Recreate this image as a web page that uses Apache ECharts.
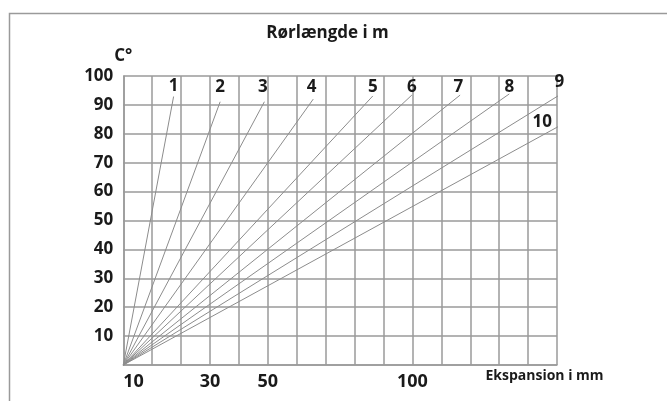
<!DOCTYPE html>
<html>
<head>
<meta charset="utf-8">
<script src="https://cdn.jsdelivr.net/npm/echarts@6/dist/echarts.min.js"></script>
<style>
  html, body { margin: 0; padding: 0; background: #fff; }
  #chart { width: 667px; height: 401px; }
</style>
</head>
<body>
<div id="chart"></div>
<script>
// rørlængde (m) for hver linje
const pipeLengths = ['1', '2', '3', '4', '5', '6', '7', '8', '9', '10']
// linjernes endepunkt: x i gitterfelter, y i grader
const endExpansion = [1.74, 3.35, 4.88, 6.57, 8.63, 9.98, 11.65, 13.35, 15.08, 15.08]
const endTemp = [92.9, 91.1, 91.1, 92.0, 93.1, 93.4, 93.4, 93.8, 93.4, 82.7]
// tekster på x-aksen
const xTickPos = [0, 3, 5, 10]
const xTickText = ['10', '30', '50', '100']

// placering af linjenumre i forhold til endepunktet (px)
const labelOffsets = [
  [0, -10], [0, -15], [-1.6, -15], [-1.6, -12], [0, -9],
  [0, -8], [-1.7, -8], [0, -7], [0, -13], [-17, -4]
]

const font = '"Open Sans", "DejaVu Sans", sans-serif'
const gridColor = '#9a9a9a'
const lineColor = '#8c8c8c'
const textColor = '#1a1a1a'

const chart = echarts.init(document.getElementById('chart'), null, { renderer: 'canvas' })

const option = {
  animation: false,
  title: [
    {
      text: 'Rørlængde i m',
      left: 327.5,
      top: 25,
      textAlign: 'center',
      padding: 0,
      textStyle: { fontFamily: font, fontSize: 17, fontWeight: 'bold', color: textColor }
    },
    {
      text: 'Ekspansion i mm',
      left: 544.5,
      top: 369,
      textAlign: 'center',
      padding: 0,
      textStyle: { fontFamily: font, fontSize: 14, fontWeight: 'bold', color: textColor }
    }
  ],
  graphic: [{
    type: 'rect',
    shape: { x: 9.5, y: 13.5, width: 700, height: 450 },
    style: { fill: 'none', stroke: gridColor, lineWidth: 1.5 },
    silent: true
  }],
  grid: { left: 123.3, right: 110, top: 76, bottom: 36 },
  xAxis: {
    type: 'value',
    min: 0,
    max: 15,
    interval: 1,
    axisLine: { show: true, lineStyle: { color: gridColor, width: 1.5 } },
    axisTick: { show: false },
    splitLine: { show: true, lineStyle: { color: gridColor, width: 1.5 } },
    axisLabel: {
      margin: 8,
      alignMinLabel: 'left',
      fontFamily: font,
      fontSize: 18,
      fontWeight: 'bold',
      color: textColor,
      formatter: v => {
        const i = xTickPos.indexOf(v)
        return i >= 0 ? xTickText[i] : ''
      }
    }
  },
  yAxis: {
    type: 'value',
    min: 0,
    max: 100,
    interval: 10,
    name: 'C°',
    nameLocation: 'end',
    nameGap: 11,
    nameTextStyle: { fontFamily: font, fontSize: 17, fontWeight: 'bold', color: textColor, align: 'center' },
    axisLine: { show: true, lineStyle: { color: gridColor, width: 1.5 } },
    axisTick: { show: false },
    splitLine: { show: true, lineStyle: { color: gridColor, width: 1.5 } },
    axisLabel: {
      margin: 10,
      fontFamily: font,
      fontSize: 17,
      fontWeight: 'bold',
      color: textColor,
      formatter: v => (v === 0 ? '' : String(v))
    }
  },
  series: pipeLengths.map((name, i) => ({
    name,
    type: 'line',
    clip: false,
    silent: true,
    symbol: 'circle',
    symbolSize: 0.01,
    showSymbol: true,
    lineStyle: { color: lineColor, width: 1 },
    itemStyle: { color: lineColor },
    data: [
      [0, 0],
      {
        value: [endExpansion[i], endTemp[i]],
        label: {
          show: true,
          position: 'inside',
          offset: labelOffsets[i],
          formatter: name,
          fontFamily: font,
          fontSize: 17,
          fontWeight: 'bold',
          color: textColor
        }
      }
    ]
  }))
}

chart.setOption(option)
</script>
</body>
</html>
